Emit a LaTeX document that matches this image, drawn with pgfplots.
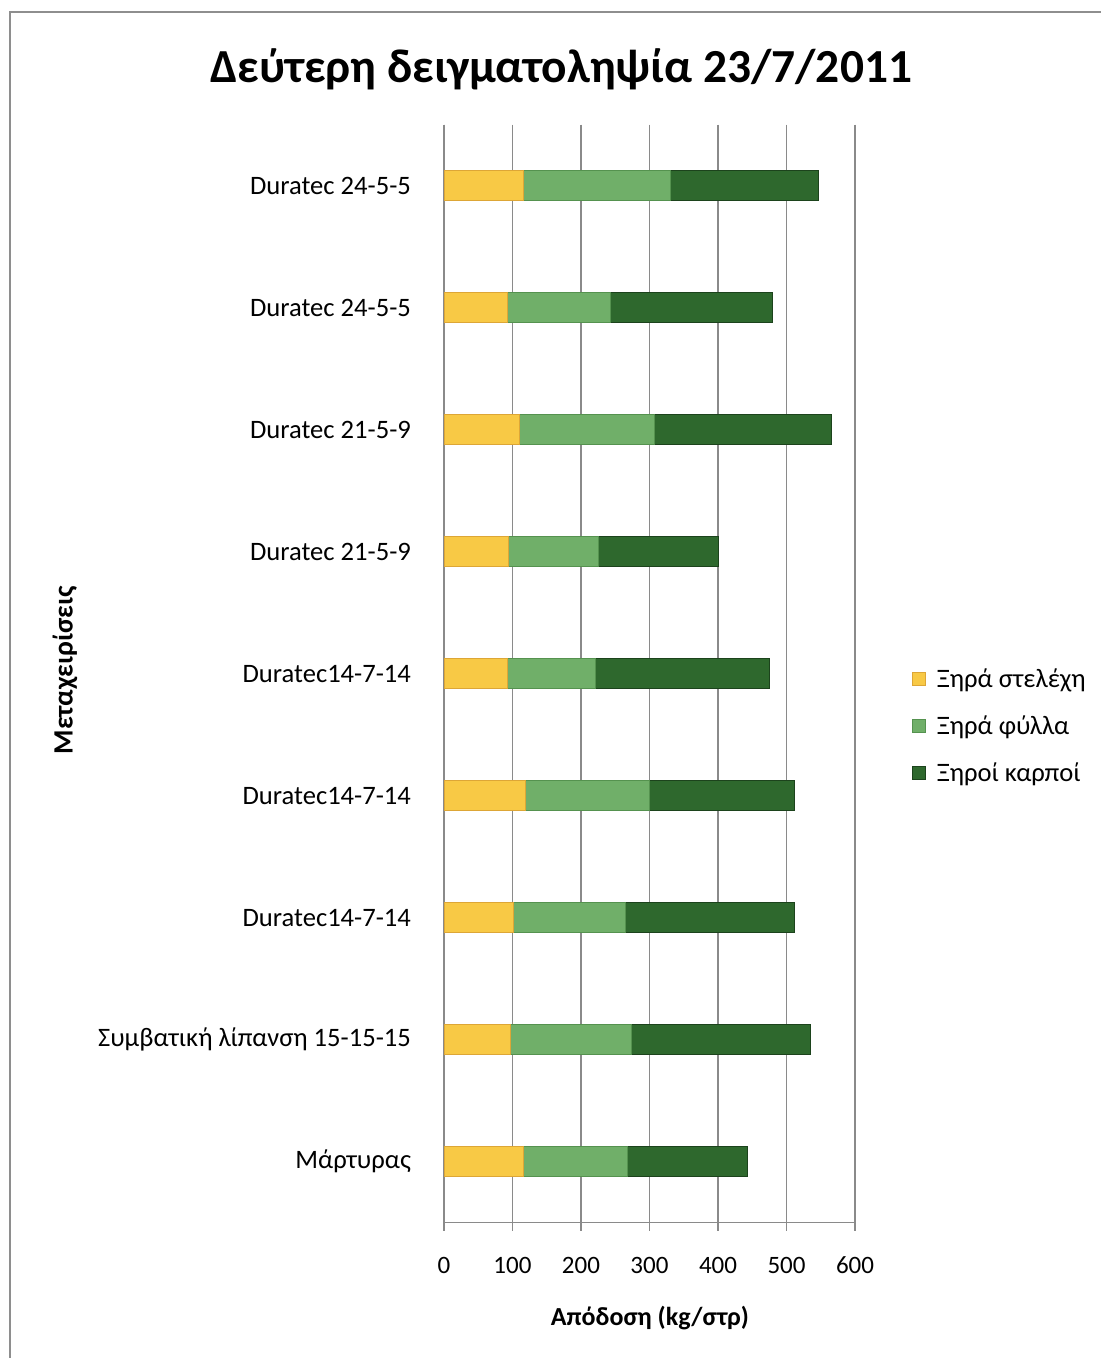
\documentclass[border=0pt]{standalone}
\usepackage{pgfplots}
\pgfplotsset{compat=1.18}
\usepackage{fontspec}
\setmainfont{Carlito}

\definecolor{framegray}{HTML}{8E8E8E}
\definecolor{gridgray}{HTML}{8A8A8A}
\definecolor{stemFill}{HTML}{F8C945}
\definecolor{stemEdge}{HTML}{DDA636}
\definecolor{leafFill}{HTML}{70AF69}
\definecolor{leafEdge}{HTML}{55924F}
\definecolor{fruitFill}{HTML}{2E682D}
\definecolor{fruitEdge}{HTML}{1C431C}

\newcommand{\labfont}{\fontsize{13.3}{16}\selectfont}

\begin{document}
\begin{tikzpicture}
\useasboundingbox (0,0) rectangle (550.5pt,679pt);
% outer chart frame (top and left edges)
\draw[framegray, line width=1pt] (5pt,0pt) -- (5pt,673pt) -- (550.5pt,673pt);
\begin{axis}[
  at={(222pt,67.65pt)}, anchor=south west,
  width=205.5pt, height=549pt, scale only axis,
  xbar stacked, bar width=15pt,
  xmin=0, xmax=600, xtick={0,100,...,600},
  ymin=-0.5, ymax=8.5, y dir=reverse,
  ytick={0,...,8},
  yticklabels={Duratec 24-5-5, Duratec 24-5-5, Duratec 21-5-9, Duratec 21-5-9,
               Duratec14-7-14, Duratec14-7-14, Duratec14-7-14,
               Συμβατική λίπανση 15-15-15, Μάρτυρας},
  axis x line*=bottom, axis y line*=left,
  xmajorgrids, grid style={gridgray, line width=0.7pt},
  axis line style={gridgray, line width=0.7pt},
  tick align=outside, major tick length=4pt,
  x tick style={gridgray, line width=0.7pt},
  y tick style={draw=none},
  xticklabel style={font=\fontsize{12.5}{15}\selectfont, yshift=-9.5pt,
                    /pgf/number format/assume math mode=true},
  yticklabel style={font=\labfont, xshift=-9pt},
  title={Δεύτερη δειγματοληψία 23/7/2011},
  title style={at={(0.285,1.040)}, anchor=center, font=\bfseries\fontsize{23.7}{28}\selectfont},
  xlabel={Απόδοση (kg/στρ)},
  xlabel style={at={(0.501,-0.087)}, anchor=center, font=\bfseries\fontsize{13}{16}\selectfont},
  ylabel={Μεταχειρίσεις},
  ylabel style={at={(-0.922,0.503)}, anchor=center, font=\bfseries\fontsize{14}{17}\selectfont},
  legend style={draw=none, fill=none, at={(1.124,0.452)}, anchor=west,
                font=\labfont, row sep=8.5pt, legend cell align=left},
  legend image code/.code={\draw[#1] (0pt,-3pt) rectangle (6.5pt,3.5pt);
                           \path[draw=none, fill=none] (0pt,0pt) -- (10pt,0pt);},
]
\addplot[fill=stemFill, draw=stemEdge, line width=0.4pt]
  coordinates {(116,0) (92,1) (110,2) (94,3) (92,4) (119,5) (101,6) (97,7) (116,8)};
\addplot[fill=leafFill, draw=leafEdge, line width=0.4pt]
  coordinates {(214,0) (151,1) (197,2) (131,3) (129,4) (181,5) (164,6) (176,7) (152,8)};
\addplot[fill=fruitFill, draw=fruitEdge, line width=0.4pt]
  coordinates {(217,0) (237,1) (259,2) (175,3) (254,4) (212,5) (246,6) (262,7) (175,8)};
\legend{Ξηρά στελέχη, Ξηρά φύλλα, Ξηροί καρποί}
\end{axis}
\end{tikzpicture}
\end{document}
